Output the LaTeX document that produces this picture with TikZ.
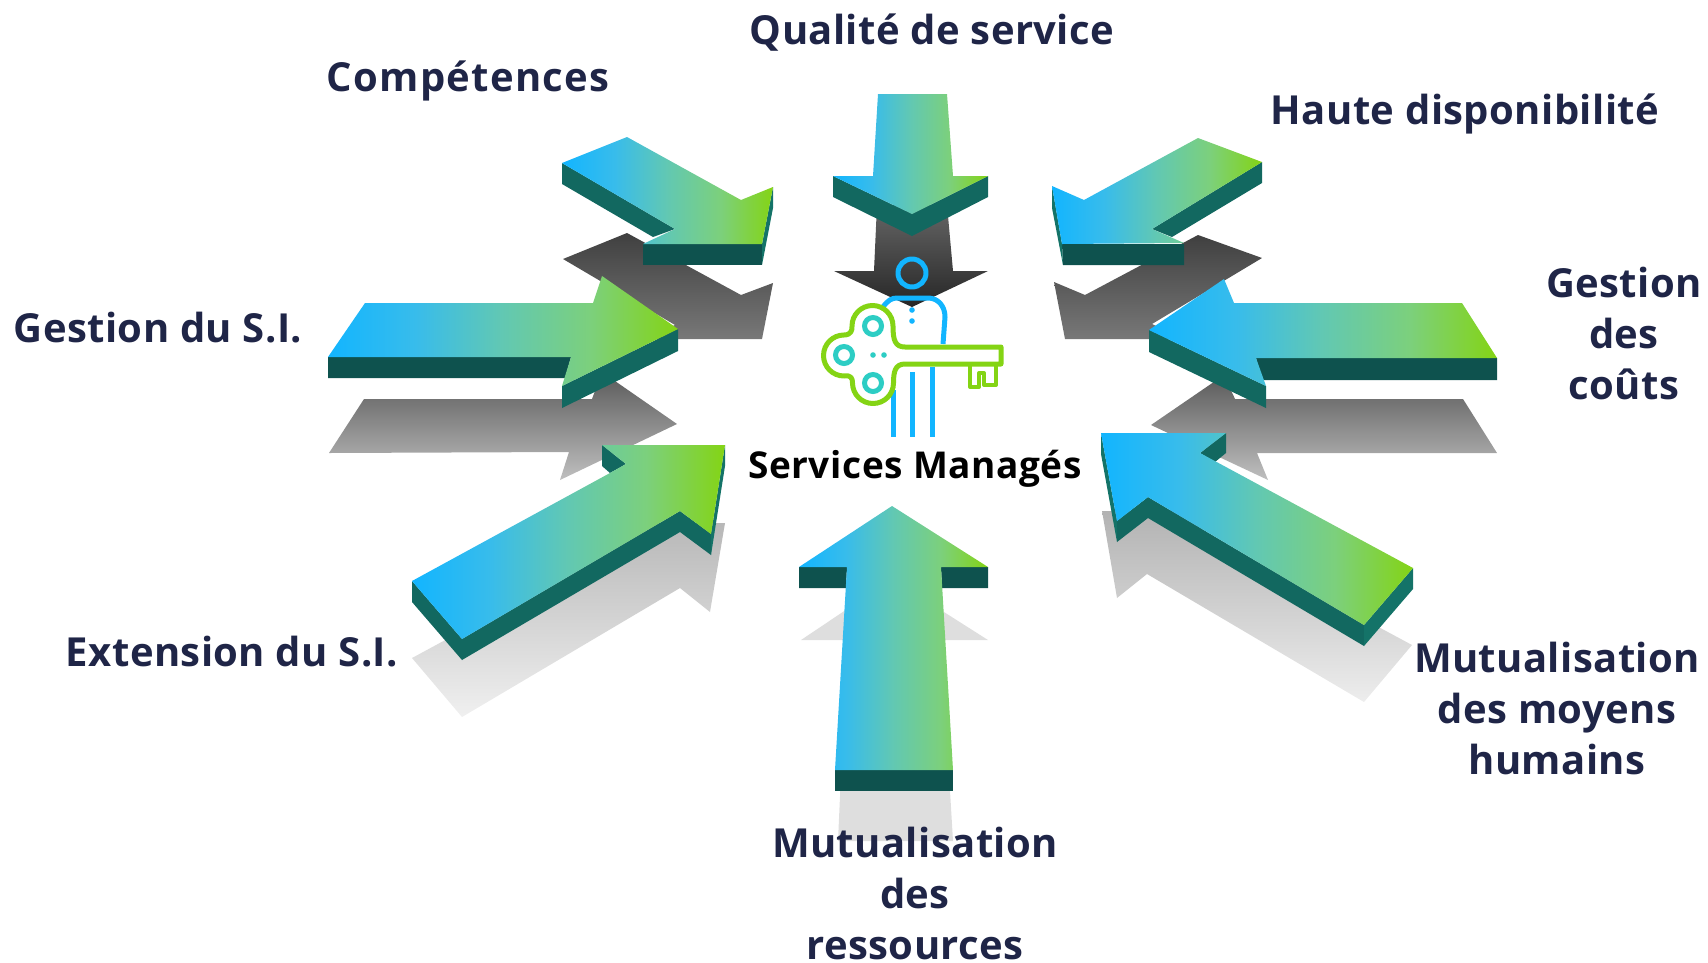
\documentclass[tikz,border=0pt]{standalone}
\usepackage{fontspec}
\setmainfont{Open Sans}
\definecolor{lblcol}{HTML}{1F2547}
\definecolor{frontc}{HTML}{0E524E}
\definecolor{sidec}{HTML}{126860}
\definecolor{tipc}{HTML}{147368}
\definecolor{icblue}{HTML}{12B5FF}
\definecolor{icgreen}{HTML}{84D414}
\definecolor{icteal}{HTML}{2DCDC4}
\definecolor{gra}{HTML}{38BCEB}
\definecolor{grb}{HTML}{62C8B2}
\definecolor{grc}{HTML}{7CD07C}
\pgfdeclarehorizontalshading{arrowgrad}{100bp}{
  color(0bp)=(icblue);
  color(25bp)=(icblue);
  color(37.5bp)=(gra);
  color(50bp)=(grb);
  color(62.5bp)=(grc);
  color(75bp)=(icgreen);
  color(100bp)=(icgreen)}
\tikzset{
  topface/.style={shading=arrowgrad,shading angle=0},
  frontface/.style={fill=frontc},
  sideface/.style={fill=sidec},
  tipface/.style={fill=tipc},
  lbl/.style={font=\fontsize{40}{51}\selectfont\bfseries\addfontfeature{LetterSpace=1.0},text=lblcol,align=center,inner sep=0pt},
  iconline/.style={line width=5pt,line cap=round,line join=round},
}
\begin{document}
\begin{tikzpicture}[x=1pt,y=-1pt]
\useasboundingbox (0,0) rectangle (1708,962);
% shadows
\shade[top color=black!75,bottom color=black!53] (563,259)--(627,233)--(741,295)--(773,283)--(762,339)--(643,339)--(675,325)--cycle;
\shade[top color=black!75,bottom color=black!53] (1262,258)--(1198,235)--(1085,295)--(1054,282)--(1065,339)--(1185,339)--(1152,324)--cycle;
\shade[top color=black!60,bottom color=black!85] (877,205)--(947,205)--(953,271)--(988,271)--(912,307)--(834,271)--(874,271)--cycle;
\shade[top color=black!65,bottom color=black!25] (329,453)--(364,399)--(592,399)--(602,372)--(677,424)--(560,480)--(569,452)--cycle;
\shade[top color=black!65,bottom color=black!25] (1497,453)--(1463,399)--(1235,399)--(1224,375)--(1151,425)--(1268,480)--(1257,453)--cycle;
\shade[top color=black!28,bottom color=black!6] (412,658)--(610,551)--(602,523)--(725,523)--(710,612)--(680,588)--(462,717)--cycle;
\shade[top color=black!30,bottom color=black!7] (1102,511)--(1226,511)--(1200,531)--(1412,645)--(1364,702)--(1147,574)--(1117,598)--cycle;
\fill[black!13] (892,579)--(988,640)--(941,640)--(953,841)--(838,841)--(847,640)--(801,640)--cycle;
% Competences
\fill[sideface] (562,163)--(562,184)--(653,237)--(675,229)--cycle;
\fill[frontface] (643,244)--(762,244)--(762,265)--(643,265)--cycle;
\fill[tipface] (773,187)--(762,244)--(762,265)--(773,208)--cycle;
\path[topface] (562,163)--(627,137)--(741,200)--(773,187)--(762,244)--(643,244)--(675,229)--cycle;
% Haute dispo
\fill[sideface] (1262,162)--(1262,183)--(1172,237)--(1152,229)--cycle;
\fill[frontface] (1062,244)--(1184,244)--(1184,265)--(1063,265)--cycle;
\fill[tipface] (1052,186)--(1062,244)--(1063,265)--(1052,208)--cycle;
\path[topface] (1052,186)--(1084,200)--(1198,138)--(1262,162)--(1152,229)--(1184,243)--(1062,244)--cycle;
% Qualite
\fill[sideface] (833,176)--(912,214)--(988,176)--(988,197)--(912,236)--(833,197)--cycle;
\path[topface] (878,94)--(947,94)--(953,176)--(988,176)--(912,214)--(833,176)--(873,176)--cycle;
% Gestion SI
\fill[frontface] (328,357)--(571,357)--(565,378)--(328,378)--cycle;
\fill[sideface] (678,329)--(562,386)--(562,408)--(678,351)--cycle;
\path[topface] (328,357)--(365,303)--(593,303)--(602,276)--(678,329)--(562,386)--(571,357)--cycle;
% Gestion couts
\fill[frontface] (1256,358)--(1497,358)--(1497,380)--(1262,380)--cycle;
\fill[sideface] (1149,330)--(1149,352)--(1266,408)--(1266,386)--cycle;
\path[topface] (1497,358)--(1462,303)--(1234,303)--(1224,279)--(1149,330)--(1266,386)--(1256,358)--cycle;
% Extension
\fill[sideface] (412,581)--(412,602)--(462,660)--(462,639)--cycle;
\fill[sideface] (462,639)--(680,511)--(711,534)--(711,555)--(680,532)--(462,660)--cycle;
\fill[sideface] (602,445)--(626,464)--(610,473)--(602,466)--cycle;
\fill[tipface] (725,445)--(711,534)--(711,555)--(725,466)--cycle;
\path[topface] (412,581)--(610,473)--(626,464)--(602,445)--(725,445)--(711,534)--(680,511)--(462,639)--cycle;
% Ressources
\fill[frontface] (799,567)--(847,567)--(846,588)--(799,588)--cycle;
\fill[frontface] (941,567)--(988,567)--(988,588)--(942,588)--cycle;
\fill[frontface] (835,770)--(953,770)--(953,791)--(835,791)--cycle;
\path[topface] (892,506)--(988,567)--(941,567)--(953,770)--(835,770)--(847,567)--(799,567)--cycle;
% Moyens
\fill[tipface] (1101,433)--(1117,521)--(1117,542)--(1101,454)--cycle;
\fill[sideface] (1117,521)--(1148,497)--(1364,625)--(1364,646)--(1148,518)--(1117,542)--cycle;
\fill[tipface] (1364,625)--(1364,646)--(1413,589)--(1413,568)--cycle;
\fill[sideface] (1226,433)--(1226,453)--(1215,462)--(1200,453)--cycle;
\path[topface] (1101,433)--(1226,433)--(1200,453)--(1413,568)--(1364,625)--(1148,497)--(1117,521)--cycle;
% icon: person
\draw[icblue,iconline] (912,273) circle[radius=14];
\draw[icblue,iconline,line cap=butt] (883,307) .. controls (888,300) and (892,298) .. (897,298) -- (928,298) .. controls (938,298) and (945,306) .. (945,317) -- (943,344);
\draw[icblue,iconline,line cap=butt] (893,390)--(893,437) (912,372)--(912,437) (932,367)--(932,437);
\fill[icblue] (912,310) circle[radius=2.8] (912,321) circle[radius=2.8];
% icon: key
\draw[icgreen,iconline] (1001,347) -- (905,347) .. controls (895,347) and (893,340) .. (893,326)
  arc[start angle=0,end angle=-180,radius=20.5]
  .. controls (852.5,330) and (851,335) .. (844,335)
  arc[start angle=-90,end angle=-270,radius=20.5]
  .. controls (851,375) and (852.5,378) .. (852.5,383)
  arc[start angle=180,end angle=0,radius=20.5]
  .. controls (893.5,372) and (895,364) .. (905,364)
  -- (1001,364) -- cycle;
\draw[icgreen,iconline,line cap=butt,line width=4pt] (970,364)--(970,387)--(979,387)--(979,373)--(984,373)--(984,385)--(996,385)--(996,364);
\draw[icteal,line width=5pt] (873,326) circle[radius=8.5] (844,355) circle[radius=8.5] (873,383) circle[radius=8.5];
\fill[icteal] (873,355) circle[radius=2.8] (884,355) circle[radius=2.8];
% labels
\node[lbl] (q) at (932,33) {Qualité de service};
\node[lbl,font=\fontsize{40}{51}\selectfont\bfseries\addfontfeature{LetterSpace=3.2}] (c) at (468,81) {Compétences};
\node[lbl] (h) at (1465,114) {Haute disponibilité};
\node[lbl] (g) at (158,328) {Gestion du S.I.};
\node[lbl] (gc) at (1624,333.5) {Gestion\\des\\coûts};
\node[lbl] (e) at (232,652) {Extension du S.I.};
\node[lbl] (mh) at (1557,708) {Mutualisation\\des moyens\\humains};
\node[lbl] (mr) at (915,893) {Mutualisation\\des\\ressources};
\node[font=\fontsize{37}{44}\selectfont\bfseries\addfontfeature{LetterSpace=1.6},text=black,inner sep=0pt] (s) at (915,469) {Services Managés};
\end{tikzpicture}
\end{document}
